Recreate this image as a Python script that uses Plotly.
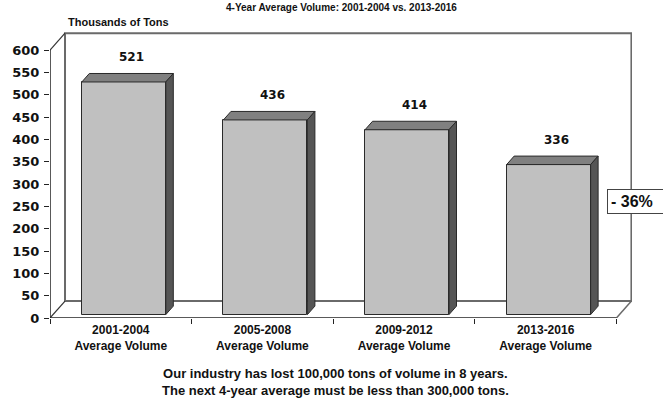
import plotly.graph_objects as go

# ---- data ----
categories = ["2001-2004<br>Average Volume", "2005-2008<br>Average Volume",
              "2009-2012<br>Average Volume", "2013-2016<br>Average Volume"]
volumes = [521, 436, 414, 336]
y_ticks = [0, 50, 100, 150, 200, 250, 300, 350, 400, 450, 500, 550, 600]
unit_label = "Thousands of Tons"
change_label = "- 36%"
title_text = "4-Year Average Volume: 2001-2004 vs. 2013-2016"
caption_lines = ["Our industry has lost 100,000 tons of volume in 8 years.",
                 "The next 4-year average must be less than 300,000 tons."]

# ---- 3D styling constants (data units) ----
X_MIN, X_MAX = -0.5, 3.61
Y_MIN, Y_MAX = 0, 645
WALL_DX, WALL_DY = 0.106, 38       # depth of the chart box
FRONT_F, BACK_F = 0.2, 0.7         # bar front/back position within depth
BAR_W = 0.593

FRONT_DX, FRONT_DY = WALL_DX * FRONT_F, WALL_DY * FRONT_F
BACK_DX, BACK_DY = WALL_DX * BACK_F, WALL_DY * BACK_F

n = len(volumes)
xs = list(range(n))
x_left, x_right = -0.5, n - 0.5
y_top = y_ticks[-1]

fig = go.Figure()

# bar front faces
fig.add_trace(go.Bar(
    x=[x + FRONT_DX for x in xs], y=volumes, base=FRONT_DY, width=BAR_W,
    marker=dict(color="#c0c0c0", line=dict(color="#2a2a2a", width=1)),
    hoverinfo="skip", showlegend=False))

# bar top and side faces
for x, v in zip(xs, volumes):
    x0 = x + FRONT_DX - BAR_W / 2
    x1 = x + FRONT_DX + BAR_W / 2
    dx, dy = BACK_DX - FRONT_DX, BACK_DY - FRONT_DY
    top = v + FRONT_DY
    fig.add_trace(go.Scatter(
        x=[x0, x1, x1 + dx, x0 + dx, x0], y=[top, top, top + dy, top + dy, top],
        fill="toself", fillcolor="#808080", mode="lines",
        line=dict(color="#2a2a2a", width=1), hoverinfo="skip", showlegend=False))
    fig.add_trace(go.Scatter(
        x=[x1, x1 + dx, x1 + dx, x1, x1], y=[FRONT_DY, FRONT_DY + dy, top + dy, top, FRONT_DY],
        fill="toself", fillcolor="#555555", mode="lines",
        line=dict(color="#2a2a2a", width=1), hoverinfo="skip", showlegend=False))

# chart box (back wall, floor, left wall edges)
wall = "#6a6a6a"
shapes = [
    dict(type="path", xref="x", yref="y", layer="below",
         path=f"M {x_left+WALL_DX},{WALL_DY} L {x_right+WALL_DX},{WALL_DY} "
              f"L {x_right+WALL_DX},{y_top+WALL_DY} L {x_left+WALL_DX},{y_top+WALL_DY} Z",
         line=dict(color=wall, width=2), fillcolor="white"),
    dict(type="line", xref="x", yref="y", layer="below",
         x0=x_right, y0=0, x1=x_right + WALL_DX, y1=WALL_DY,
         line=dict(color=wall, width=1.5)),
    dict(type="line", xref="x", yref="y", layer="below",
         x0=x_left, y0=0, x1=x_left + WALL_DX, y1=WALL_DY,
         line=dict(color="#333", width=1.2)),
    dict(type="line", xref="x", yref="y", layer="below",
         x0=x_left, y0=y_top, x1=x_left + WALL_DX, y1=y_top + WALL_DY,
         line=dict(color="#333", width=1.2)),
    dict(type="line", xref="x", yref="y",
         x0=x_left, y0=0, x1=x_left, y1=y_top,
         line=dict(color="#222", width=1.5)),
    dict(type="line", xref="x", yref="y",
         x0=x_left, y0=0, x1=x_right, y1=0,
         line=dict(color="#222", width=1.5)),
]

annotations = []
for x, v in zip(xs, volumes):
    annotations.append(dict(
        x=x + BACK_DX, y=v + BACK_DY, xref="x", yref="y",
        text=f"<b>{v}</b>", showarrow=False, yanchor="bottom", yshift=7,
        font=dict(family="DejaVu Sans", size=12, color="#111")))

annotations += [
    dict(x=0.027, y=1.0, xref="paper", yref="paper", xanchor="left", yanchor="bottom",
         yshift=0, text=f"<b>{unit_label}</b>", showarrow=False,
         font=dict(family="Liberation Sans", size=11, color="#111")),
    dict(x=0.957, y=0.406, xref="paper", yref="paper", xanchor="left", yanchor="middle",
         text=f"<b>{change_label}</b>", showarrow=False, align="left", width=62,
         bordercolor="#444", borderwidth=1, borderpad=3, bgcolor="white",
         font=dict(family="Liberation Sans", size=16, color="#111")),
    dict(x=0.5, y=1.104, xref="paper", yref="paper", xanchor="center", yanchor="top",
         text=f"<b>{title_text}</b>", showarrow=False,
         font=dict(family="Liberation Sans", size=10, color="#111")),
    dict(x=0.49, y=-0.222, xref="paper", yref="paper", xanchor="center", yanchor="middle",
         text=f"<b>{caption_lines[0]}</b><br><b>{caption_lines[1]}</b>", showarrow=False,
         font=dict(family="Liberation Sans", size=13, color="#111")),
]

fig.update_layout(
    width=663, height=401,
    margin=dict(l=50, r=31, t=30, b=83),
    paper_bgcolor="white", plot_bgcolor="white",
    bargap=0, showlegend=False,
    shapes=shapes, annotations=annotations,
    xaxis=dict(range=[X_MIN, X_MAX], showgrid=False, zeroline=False, showline=False,
               tickvals=xs, ticktext=[f"<b>{c}</b>" for c in categories], ticks="",
               ticklabelstandoff=3,
               tickfont=dict(family="Liberation Sans", size=12, color="#111"),
               minor=dict(tick0=0.5, dtick=1, ticks="outside", ticklen=5,
                          tickcolor="#222", showgrid=False)),
    yaxis=dict(range=[Y_MIN, Y_MAX], showgrid=False, zeroline=False, showline=False,
               tickvals=y_ticks, ticktext=[f"<b>{t}</b>" for t in y_ticks],
               ticks="outside", ticklen=5, tickcolor="#222", ticklabelstandoff=2,
               tickfont=dict(family="DejaVu Sans", size=13, color="#111")),
)

fig.write_html("out.html", config={"displayModeBar": False},
               post_script="document.body.style.margin='0';")
